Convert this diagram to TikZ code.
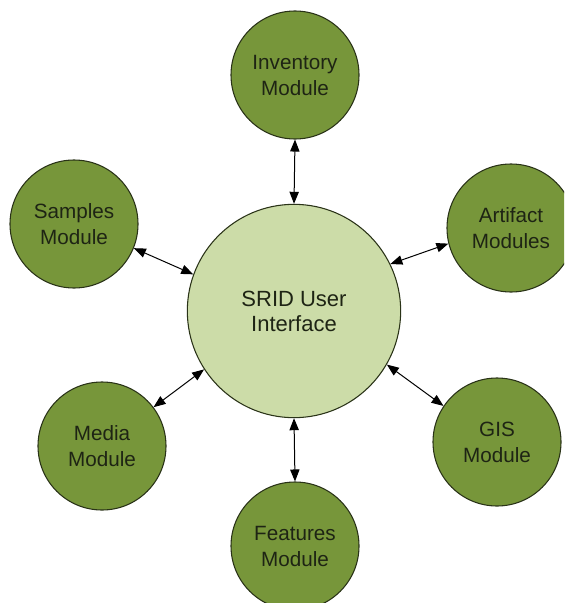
\documentclass[tikz,border=0pt]{standalone}
\usepackage{fontspec}
\setmainfont{Liberation Sans}
\usetikzlibrary{arrows.meta}
\definecolor{outerfill}{HTML}{77963A}
\definecolor{innerfill}{HTML}{CCDCA8}
\definecolor{edgecol}{HTML}{2A3318}
\definecolor{txt}{HTML}{1E2414}
\tikzset{
  module/.style={circle, draw=edgecol, line width=0.8pt, fill=outerfill,
    minimum size=96pt, inner sep=0pt, align=center, text=txt,
    font=\fontsize{15.5pt}{19.5pt}\selectfont},
  hub/.style={circle, draw=edgecol, line width=0.8pt, fill=innerfill,
    minimum size=160pt, inner sep=0pt, align=center, text=txt,
    font=\fontsize{16.5pt}{18.8pt}\selectfont},
  link/.style={line width=0.75pt, black,
    {Triangle[length=9pt,width=7pt]}-{Triangle[length=9pt,width=7pt]}}
}
\begin{document}
\begin{tikzpicture}[x=0.75pt,y=-0.75pt]
\useasboundingbox (0,0) rectangle (564,603);
\clip (0,0) rectangle (564,603);
\node[hub] (main) at (294,311) {SRID User\\Interface};
\node[module] (inv) at (295,75) {Inventory\\Module};
\node[module] (smp) at (74,224) {Samples\\Module};
\node[module] (art) at (511,228) {Artifact\\Modules};
\node[module] (med) at (102,446) {Media\\Module};
\node[module] (gis) at (497,442) {GIS\\Module};
\node[module] (fea) at (295,546) {Features\\Module};
\draw[link] (inv.south) -- (main.north);
\draw[link] (main.south) -- (fea.north);
\draw[link] (smp.338) -- (main.160);
\draw[link] (main.26) -- (art.194);
\draw[link] (med.37) -- (main.213);
\draw[link] (main.330) -- (gis.146);
\end{tikzpicture}
\end{document}
